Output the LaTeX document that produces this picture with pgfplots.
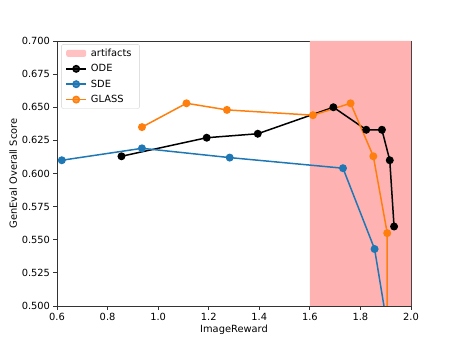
\documentclass[border=0pt]{standalone}
\usepackage{fontspec}
\setmainfont{DejaVu Sans}
\usepackage{pgfplots}
\pgfplotsset{compat=1.18}
\definecolor{c0}{HTML}{1F77B4}
\definecolor{c1}{HTML}{FF7F0E}
\definecolor{artred}{RGB}{255,178,178}

\begin{document}
\fontsize{9.9}{11.5}\selectfont
\begin{tikzpicture}
\path[use as bounding box] (0,0) rectangle (457bp,343bp);
\begin{axis}[
    at={(57bp,37bp)}, anchor=south west,
    scale only axis, width=354bp, height=265bp,
    xmin=0.6, xmax=2.0, ymin=0.5, ymax=0.7,
    xtick={0.6,0.8,1.0,1.2,1.4,1.6,1.8,2.0},
    ytick={0.5,0.525,0.55,0.575,0.6,0.625,0.65,0.675,0.7},
    tick align=outside, tick pos=left, major tick length=3.5bp,
    axis line style={line width=0.8bp, black!80},
    every tick/.style={line width=0.8bp, black!80},
    /pgf/number format/assume math mode=true,
    xticklabel style={/pgf/number format/.cd, fixed, fixed zerofill, precision=1},
    yticklabel style={/pgf/number format/.cd, fixed, fixed zerofill, precision=3},
    xlabel={ImageReward}, ylabel={GenEval Overall Score},
    xlabel style={yshift=2bp}, ylabel style={yshift=-2bp},
    legend style={at={(0.012,0.988)}, anchor=north west, draw=black!18,
      rounded corners=2bp, fill=white, fill opacity=0.8, text opacity=1,
      inner xsep=4bp, inner ysep=2.5bp, row sep=2.6bp,
      nodes={inner xsep=4bp}},
    legend cell align=left,
    legend image code/.code={
      \draw[mark repeat=2, mark phase=2, #1] plot coordinates {(0bp,0bp) (10bp,0bp) (20bp,0bp)};},
    mark size=3.2bp,
  ]
  \addplot[fill=artred, draw=none, area legend,
    legend image code/.code={\fill[artred] (0bp,-3.5bp) rectangle (20bp,3.5bp);}]
    coordinates {(1.6,0.5) (2.0,0.5) (2.0,0.7) (1.6,0.7)} \closedcycle;
  \addlegendentry{artifacts}
  \addplot[black, line width=1.5bp, mark=*, mark options={solid, fill=black}]
    coordinates {(0.855,0.613) (1.192,0.627) (1.394,0.630) (1.693,0.650) (1.823,0.633) (1.885,0.633) (1.916,0.610) (1.933,0.560)};
  \addlegendentry{ODE}
  \addplot[c0, line width=1.5bp, mark=*, mark options={solid, fill=c0}]
    coordinates {(0.619,0.610) (0.936,0.619) (1.283,0.612) (1.731,0.604) (1.856,0.543) (1.919,0.470)};
  \addlegendentry{SDE}
  \addplot[c1, line width=1.5bp, mark=*, mark options={solid, fill=c1}]
    coordinates {(0.936,0.635) (1.112,0.653) (1.272,0.648) (1.612,0.644) (1.761,0.653) (1.851,0.613) (1.906,0.555) (1.906,0.450)};
  \addlegendentry{GLASS}
\end{axis}
\end{tikzpicture}
\end{document}
